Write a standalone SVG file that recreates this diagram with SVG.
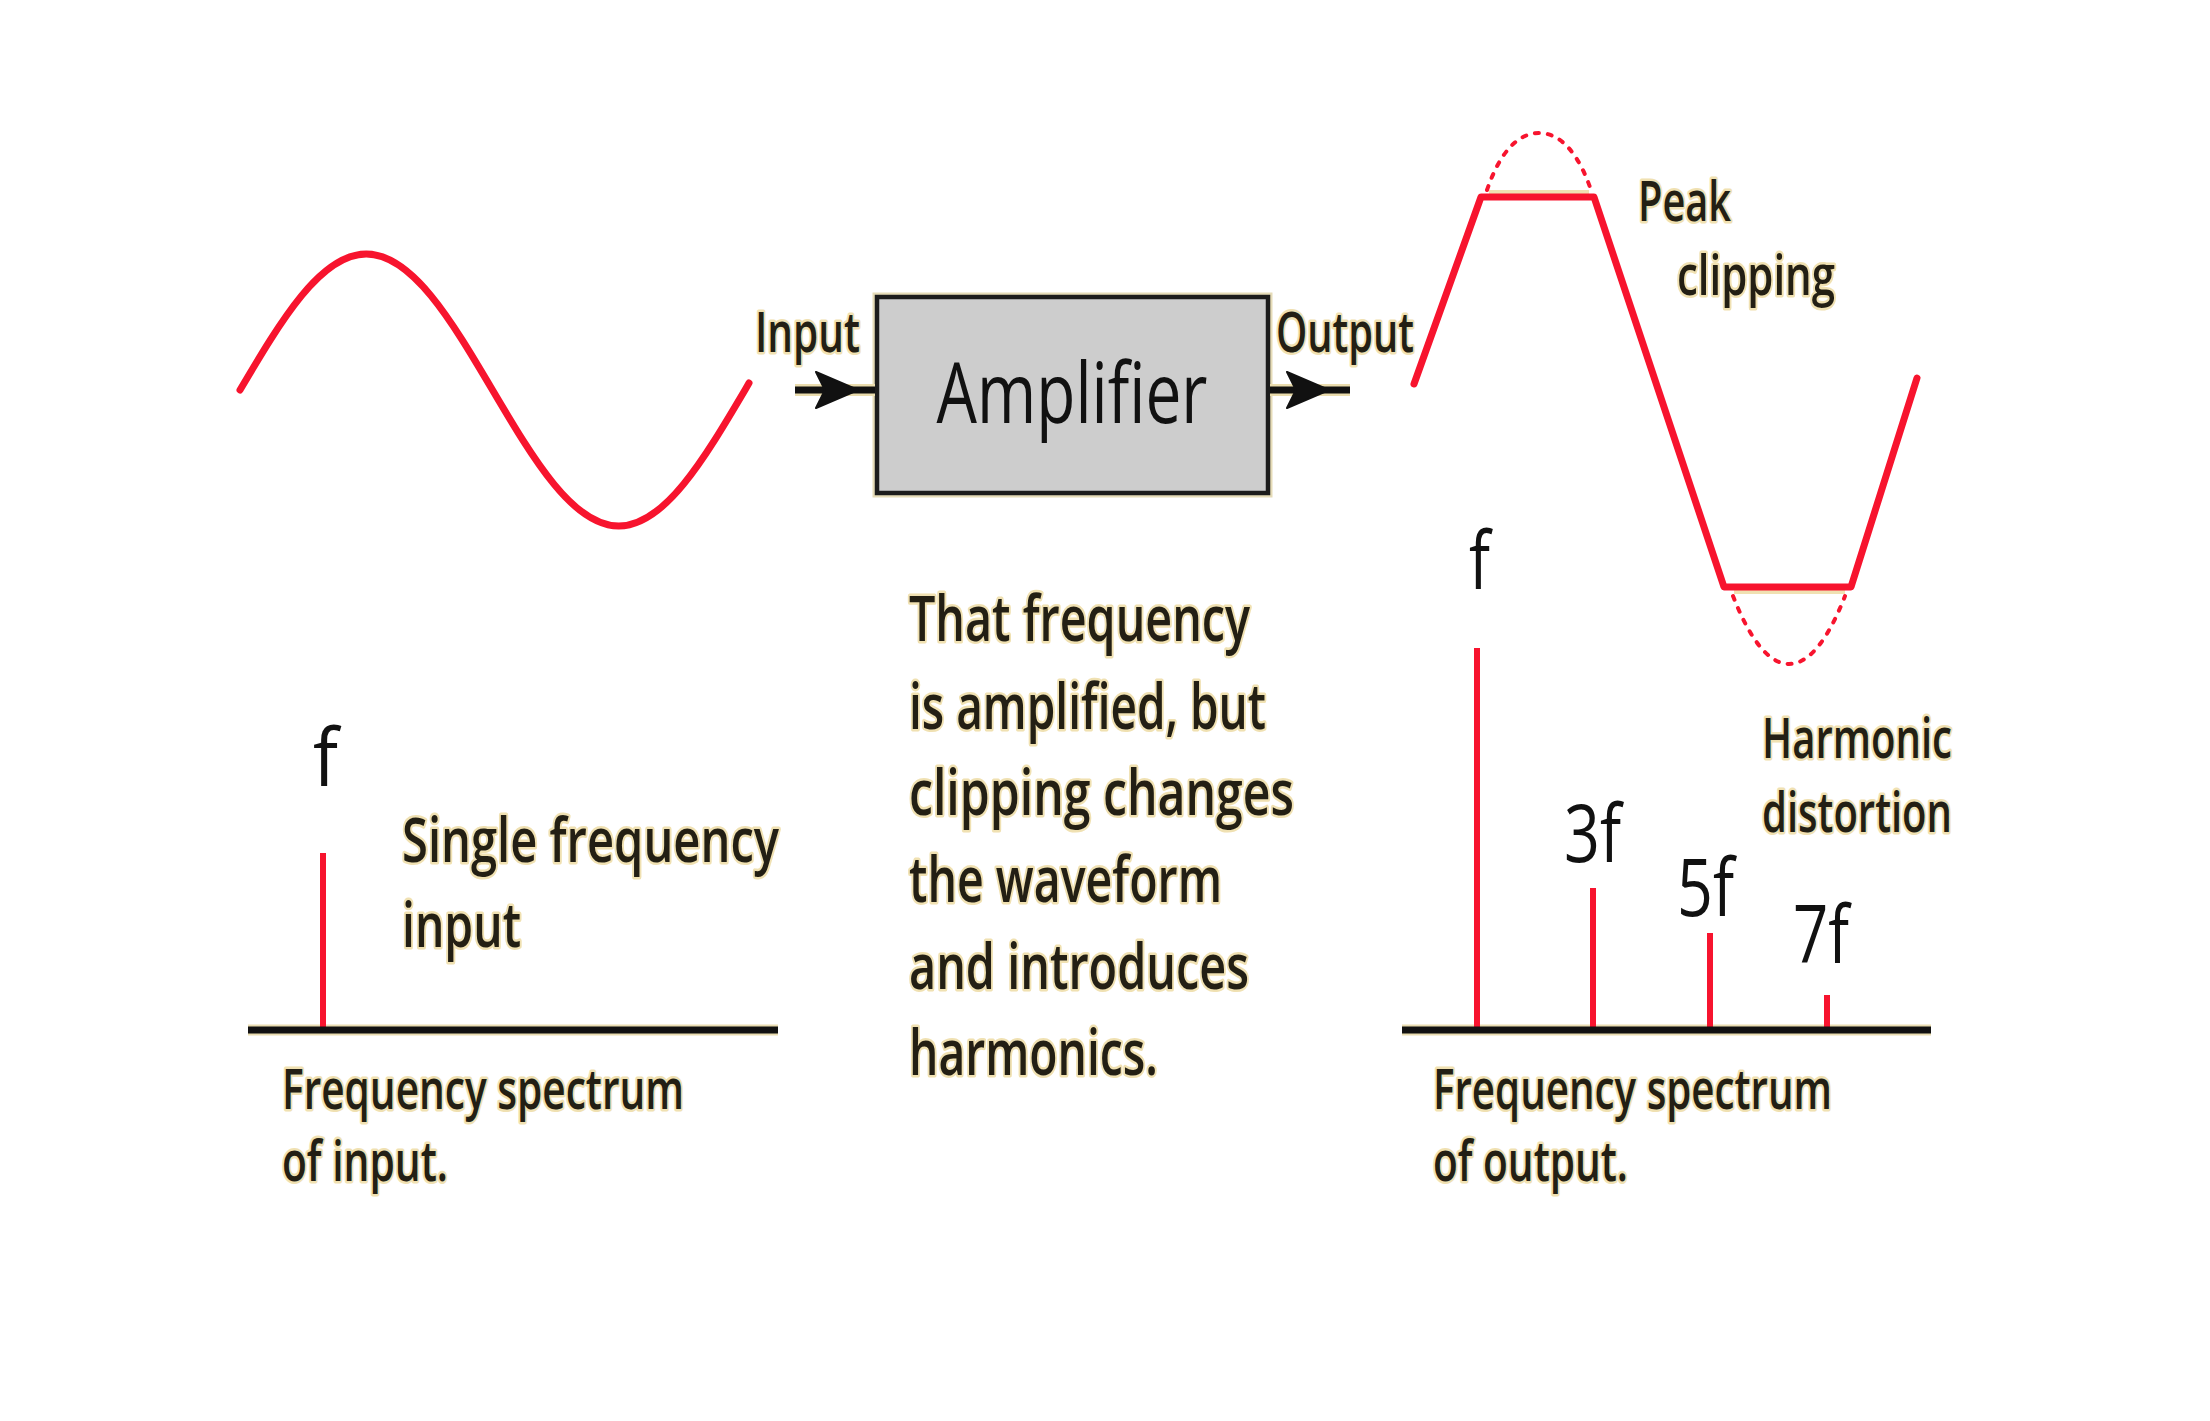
<svg xmlns="http://www.w3.org/2000/svg" width="2210" height="1421" viewBox="0 0 2210 1421">
<style>
.lbl{font-family:"Open Sans","Liberation Sans",sans-serif;font-weight:600;fill:#231f14;stroke:#f0e1b2;stroke-width:5;stroke-linejoin:round;paint-order:stroke}
.big{font-family:"Open Sans","Liberation Sans",sans-serif;fill:#111}
.wave{fill:none;stroke:#f7142e;stroke-width:7;stroke-linecap:round;stroke-linejoin:round}
.dot{fill:none;stroke:#f7142e;stroke-width:4;stroke-dasharray:4 9;stroke-linecap:round}
.bar{stroke:#f7142e;stroke-width:6}
.axis{stroke:#111;stroke-width:7}
.axisHalo{stroke:#e9dcb0;stroke-width:11}
.arr{stroke:#111;stroke-width:7}
.arrHalo{stroke:#eadcad;stroke-width:12}
</style>
<rect width="2210" height="1421" fill="#ffffff"/>

<g id="input-wave">
<path class="wave" d="M240,390 C281.17,320.33 320.56,254 366.25,254 C411.94,254 451.33,320.33 492.5,390 C533.67,459.67 573.06,526 618.75,526 C664.44,526 703.83,459.67 745,390 L749,383"/>
</g>

<g id="amplifier">
<rect x="877" y="297" width="391" height="196" fill="#cdcdcd" stroke="#e6dcb8" stroke-width="9"/>
<rect x="877" y="297" width="391" height="196" fill="#cdcdcd" stroke="#1c1c1c" stroke-width="4.5"/>
<text class="big" x="1072" y="423" font-size="84" text-anchor="middle" textLength="271" lengthAdjust="spacingAndGlyphs">Amplifier</text>
</g>

<g id="connectors">
<line class="arrHalo" x1="795" y1="390" x2="875" y2="390"/>
<line class="arr" x1="795" y1="390" x2="875" y2="390"/>
<polygon points="816,372 858,390 816,408 825,390" fill="#111" stroke="#111" stroke-width="2" stroke-linejoin="round"/>
<line class="arrHalo" x1="1270" y1="390" x2="1350" y2="390"/>
<line class="arr" x1="1270" y1="390" x2="1350" y2="390"/>
<polygon points="1287,372 1329,390 1287,408 1296,390" fill="#111" stroke="#111" stroke-width="2" stroke-linejoin="round"/>
</g>

<g id="input-label">
<text class="lbl" x="755" y="352" font-size="56" textLength="105" lengthAdjust="spacingAndGlyphs">Input</text>
</g>
<g id="output-label">
<text class="lbl" x="1276" y="352" font-size="56" textLength="138" lengthAdjust="spacingAndGlyphs">Output</text>
</g>

<g id="output-wave">
<line x1="1489" y1="192" x2="1589" y2="192" stroke="#f0e1b2" stroke-width="4"/>
<line x1="1734" y1="592" x2="1845" y2="592" stroke="#f0e1b2" stroke-width="4"/>
<path class="wave" d="M1414,384 L1481,197 L1594,197 L1724,587 L1851,587 L1917,378"/>
<path class="dot" d="M1487,190 C1500,152 1518,133 1539,133 C1560,133 1578,152 1591,190"/>
<path class="dot" d="M1733,596 C1747,632 1766,664 1789,664 C1812,664 1831,632 1845,596"/>
<text class="lbl" x="1638" y="221" font-size="56" textLength="93" lengthAdjust="spacingAndGlyphs">Peak</text>
<text class="lbl" x="1677" y="295" font-size="56" textLength="158" lengthAdjust="spacingAndGlyphs">clipping</text>
</g>

<g id="input-spectrum">
<line class="axisHalo" x1="248" y1="1030" x2="778" y2="1030"/>
<line class="bar" x1="323" y1="853" x2="323" y2="1030"/>
<line class="axis" x1="248" y1="1030" x2="778" y2="1030"/>
<text class="big" x="313" y="786" font-size="80" textLength="25" lengthAdjust="spacingAndGlyphs">f</text>
<text class="lbl" x="402" y="862" font-size="62" textLength="377" lengthAdjust="spacingAndGlyphs">Single frequency</text>
<text class="lbl" x="402" y="947" font-size="62" textLength="119" lengthAdjust="spacingAndGlyphs">input</text>
<text class="lbl" x="282" y="1109" font-size="56" textLength="402" lengthAdjust="spacingAndGlyphs">Frequency spectrum</text>
<text class="lbl" x="282" y="1181" font-size="56" textLength="166" lengthAdjust="spacingAndGlyphs">of input.</text>
</g>

<g id="explanation">
<text class="lbl" x="909" y="641" font-size="64" textLength="341" lengthAdjust="spacingAndGlyphs">That frequency</text>
<text class="lbl" x="909" y="729" font-size="64" textLength="357" lengthAdjust="spacingAndGlyphs">is amplified, but</text>
<text class="lbl" x="909" y="815" font-size="64" textLength="385" lengthAdjust="spacingAndGlyphs">clipping changes</text>
<text class="lbl" x="909" y="902" font-size="64" textLength="313" lengthAdjust="spacingAndGlyphs">the waveform</text>
<text class="lbl" x="909" y="989" font-size="64" textLength="340" lengthAdjust="spacingAndGlyphs">and introduces</text>
<text class="lbl" x="909" y="1075" font-size="64" textLength="249" lengthAdjust="spacingAndGlyphs">harmonics.</text>
</g>

<g id="output-spectrum">
<line class="axisHalo" x1="1402" y1="1030" x2="1931" y2="1030"/>
<line class="bar" x1="1477" y1="648" x2="1477" y2="1030"/>
<line class="bar" x1="1593" y1="888" x2="1593" y2="1030"/>
<line class="bar" x1="1710" y1="933" x2="1710" y2="1030"/>
<line class="bar" x1="1827" y1="995" x2="1827" y2="1030"/>
<line class="axis" x1="1402" y1="1030" x2="1931" y2="1030"/>
<text class="big" x="1469" y="589" font-size="80" textLength="21" lengthAdjust="spacingAndGlyphs">f</text>
<text class="big" x="1564" y="862" font-size="80" textLength="57" lengthAdjust="spacingAndGlyphs">3f</text>
<text class="big" x="1677" y="916" font-size="80" textLength="57" lengthAdjust="spacingAndGlyphs">5f</text>
<text class="big" x="1793" y="963" font-size="80" textLength="56" lengthAdjust="spacingAndGlyphs">7f</text>
<text class="lbl" x="1762" y="758" font-size="56" textLength="190" lengthAdjust="spacingAndGlyphs">Harmonic</text>
<text class="lbl" x="1762" y="832" font-size="56" textLength="190" lengthAdjust="spacingAndGlyphs">distortion</text>
<text class="lbl" x="1433" y="1109" font-size="56" textLength="399" lengthAdjust="spacingAndGlyphs">Frequency spectrum</text>
<text class="lbl" x="1433" y="1181" font-size="56" textLength="195" lengthAdjust="spacingAndGlyphs">of output.</text>
</g>
</svg>
